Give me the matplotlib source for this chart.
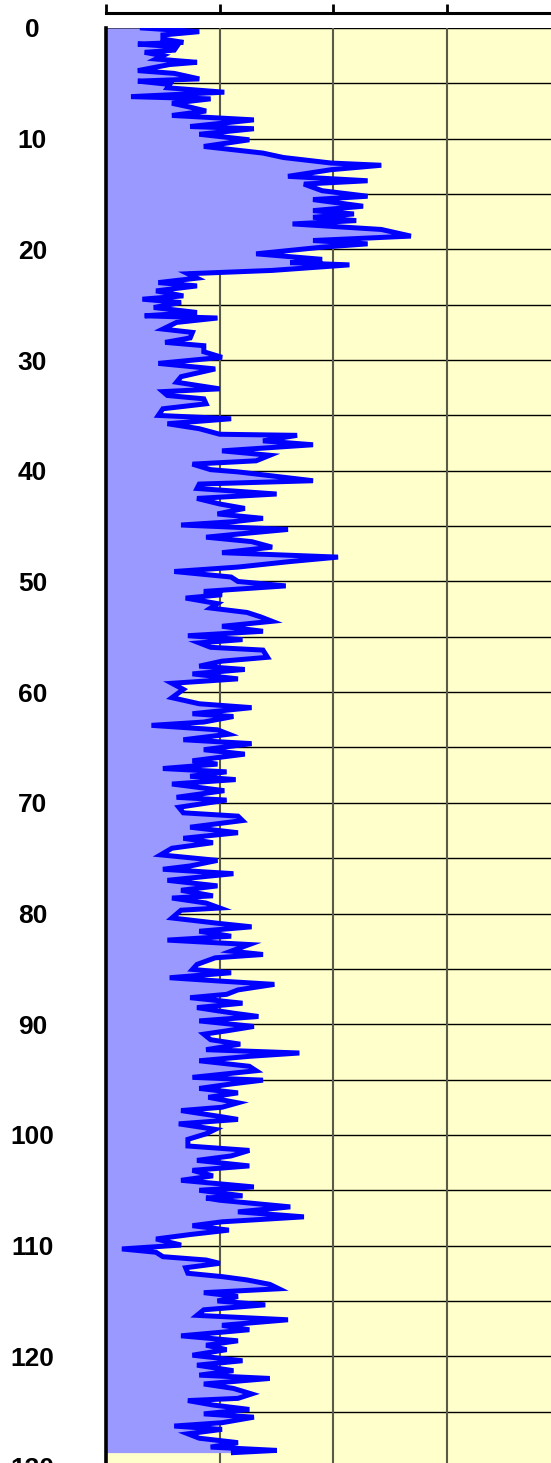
import matplotlib.pyplot as plt
import numpy as np

# depth (m) and log value, in segments
depth = [
    0.0, 0.33, 0.63, 1.0, 1.3, 1.45, 1.7, 2.0, 2.2, 2.5, 2.8, 3.1, 3.3, 3.85, 4.1, 4.6, 4.8,
    5.1, 5.4, 5.8, 6.2, 6.4, 6.8, 7.15, 7.5, 7.9, 8.3, 8.9, 9.1, 9.6, 10.1, 10.7, 11.3, 11.7,
    12.2, 12.4, 12.8, 13.4, 13.8, 14.1, 14.7, 15.2, 15.5, 16.1, 16.5, 16.8, 17.1, 17.4, 17.7,
    18.2, 18.8, 19.2, 19.5, 19.8, 20.4, 20.9, 21.2, 21.4, 21.9, 22.2, 22.6, 23.0, 23.3, 23.75,
    24.2,
    24.5, 24.8, 25.25, 25.7, 26.0, 26.2, 26.6, 27.2, 27.5, 28.0, 28.4, 28.7, 29.25, 29.75,
    30.3, 30.8, 31.5, 32.0, 32.6, 32.85, 33.2, 33.5, 33.95, 34.4, 35.0, 35.3, 35.75, 36.2,
    36.7, 36.8, 37.3, 37.65, 38.2, 38.6, 39.1, 39.4, 39.9, 40.1, 40.9, 41.2, 41.6, 42.1,
    42.5, 43.0, 43.4, 43.9, 44.3, 44.6, 44.9, 45.3, 45.7, 46.0, 46.4, 46.9, 47.4, 47.8,
    48.2, 48.7, 49.1, 49.6, 50.0, 50.4, 50.9, 51.2,
    51.5, 52.0, 52.4, 52.8, 53.2, 53.6, 54.05, 54.5, 54.9, 55.25, 55.55, 55.95, 56.2, 56.85,
    57.2, 57.65, 57.95, 58.35, 58.8, 59.2, 59.75, 60.5, 61.05, 61.4, 61.95, 62.2, 62.7,
    63.0, 63.4, 63.8, 64.3, 64.65, 65.2, 65.6, 66.2, 66.5, 66.9, 67.2, 67.6, 67.9, 68.3,
    68.9, 69.5, 69.75, 70.4, 70.9, 71.2, 71.6, 72.2, 72.7, 73.2, 73.6, 74.1, 74.7, 75.2,
    75.7, 76.0, 76.4, 77.0, 77.5, 77.9, 78.4,
    78.6, 79.05, 79.5, 79.7, 80.4, 80.9, 81.2, 81.6, 82.05, 82.4, 82.8, 83.4, 83.7, 84.0,
    84.6, 85.05, 85.35, 85.8, 86.1, 86.4, 86.9, 87.3, 87.6, 88.1, 88.5, 89.0, 89.3, 89.7,
    90.2, 90.6, 90.9, 91.4, 91.8, 92.3, 92.6, 92.9, 93.3, 93.8, 94.2, 94.8, 95.05, 95.4,
    95.8, 96.2, 96.6, 97.1, 97.5, 97.8, 98.3, 98.6, 99.0, 99.5, 99.9, 100.4, 101.0, 101.4,
    101.9, 102.3, 102.8, 103.2, 103.7, 104.1, 104.7, 105.0, 105.5,
    105.7, 105.9, 106.5, 106.95, 107.4, 107.85, 108.2, 108.6, 109.0, 109.4, 109.95, 110.3,
    110.6, 111.0, 111.3, 111.6, 112.0, 112.5, 112.8, 113.1, 113.5, 113.9, 114.25, 114.6,
    115.0, 115.35, 115.8, 116.3, 116.7, 117.2, 117.6, 118.15, 118.6, 119.0, 119.4, 119.9,
    120.4, 120.8, 121.3, 121.7, 122.0, 122.5, 122.9, 123.4, 123.8, 124.0, 124.4, 124.8,
    125.2, 125.5, 126.0, 126.3, 126.6, 127.0, 127.4, 127.8, 128.2, 128.5, 128.7,
]

gr = [
    16, 41, 25, 25, 34, 14, 31, 30, 17, 25, 22, 40, 28, 14, 30, 41, 14,
    28, 27, 52, 11, 46, 29, 37, 44, 29, 65, 37, 65, 41, 63, 43, 69, 78,
    99, 121, 99, 80, 115, 87, 95, 115, 91, 113, 91, 109, 91, 110, 82,
    121, 134, 91, 115, 95, 66, 95, 81, 107, 73, 36, 40, 23, 40, 22,
    34,
    16, 33, 21, 40, 17, 49, 31, 25, 38, 37, 26, 43, 43, 51,
    23, 48, 33, 31, 50, 25, 27, 43, 44, 25, 23, 55, 27, 41,
    50, 84, 69, 91, 51, 72, 66, 38, 46, 58, 91, 41, 40, 75,
    40, 50, 61, 49, 69, 56, 33, 80, 59, 44, 64, 73, 51, 102,
    81, 58, 30, 55, 58, 79, 43, 51,
    35, 49, 46, 62, 68, 73, 51, 69, 36, 60, 41, 46, 69, 71,
    51, 41, 61, 38, 58, 29, 34, 29, 41, 64, 38, 56, 43,
    20, 49, 54, 34, 64, 43, 61, 38, 49, 25, 53, 37, 57, 29,
    52, 31, 53, 32, 34, 58, 60, 37, 58, 34, 47, 29, 24, 49,
    37, 25, 56, 27, 49, 33, 47,
    29, 44, 50, 33, 29, 50, 64, 41, 55, 27, 63, 55, 69, 48,
    40, 38, 55, 28, 50, 74, 58, 53, 37, 60, 40, 56, 67, 41,
    65, 53, 43, 46, 59, 44, 85, 63, 41, 63, 66, 38, 69, 55,
    41, 58, 45, 58, 51, 33, 49, 58, 32, 48, 44, 36, 36, 63,
    55, 40, 63, 38, 47, 33, 65, 41, 60,
    44, 50, 81, 58, 87, 51, 38, 54, 37, 22, 33, 7,
    22, 25, 44, 50, 35, 36, 51, 62, 72, 76, 43, 58,
    49, 70, 43, 40, 80, 51, 63, 33, 58, 44, 53, 38,
    60, 40, 56, 41, 72, 43, 56, 64, 58, 36, 47, 63,
    43, 65, 51, 30, 51, 36, 41, 58, 46, 75, 56,
]

depth_ticks = list(range(0, 131, 10))
grid_depths = list(range(0, 131, 5))
gr_ticks = [0, 50, 100, 150, 200]

fig = plt.figure(figsize=(5.51, 14.63), dpi=100)
# axes runs past the right and bottom edges, like the cropped reference
ax = fig.add_axes([106 / 551, 1 - 1467 / 1463, 455 / 551, 1439 / 1463])
ax.set_facecolor('#FFFFCC')

ax.fill_betweenx(depth, 0, gr, color='#9999FF', lw=0, zorder=2)
ax.plot(gr, depth, color='#0000FF', lw=3.6, solid_joinstyle='miter', zorder=3)

ax.set_xlim(0, 200)
ax.set_ylim(130, 0)

# grid
for d in grid_depths:
    ax.axhline(d, color='black', lw=1.0, zorder=1)
for g in gr_ticks[1:]:
    ax.axvline(g, color='#5a5a48', lw=1.5, zorder=1)

# depth labels on the left, centred
ax.set_yticks(depth_ticks)
ax.set_yticklabels([str(d) for d in depth_ticks], fontsize=19,
                   fontweight='bold', family='Liberation Sans', ha='center')
ax.tick_params(axis='y', length=0, pad=53)

# top scale line, pulled up above the track
ax.xaxis.tick_top()
ax.set_xticks(gr_ticks)
ax.tick_params(axis='x', which='both', top=True, bottom=False, labeltop=False,
               labelbottom=False, length=6.5, width=2, direction='out')
ax.spines['top'].set_position(('outward', 10.5))
ax.spines['top'].set_linewidth(2.2)
ax.spines['left'].set_linewidth(2.6)
ax.spines['right'].set_visible(False)
ax.spines['bottom'].set_visible(False)

fig.savefig('out.png', dpi=100)
